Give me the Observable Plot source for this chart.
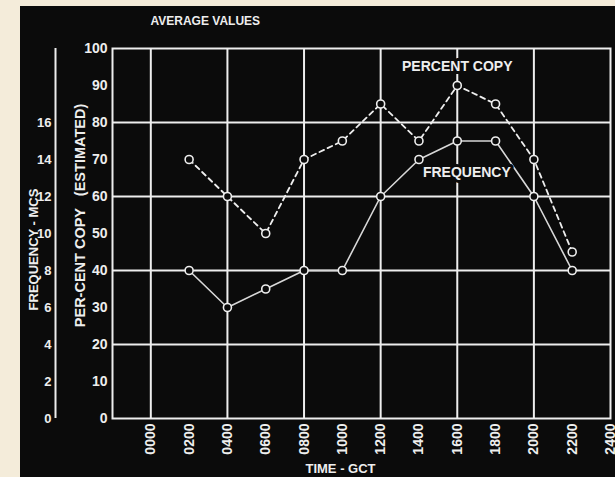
<!DOCTYPE html>
<html>
<head>
<meta charset="utf-8">
<script src="https://cdn.jsdelivr.net/npm/d3@7"></script>
<script src="https://cdn.jsdelivr.net/npm/@observablehq/plot@0.6"></script>
<style>
  html, body { margin: 0; padding: 0; background: #f4ecda; }
  #chart svg { display: block; margin-left: 20px; margin-top: 6px; }
</style>
</head>
<body>
<div id="chart"></div>
<script>
// ---- data ----
const hours = [2, 4, 6, 8, 10, 12, 14, 16, 18, 20, 22];
const percentCopy = [70, 60, 50, 70, 75, 85, 75, 90, 85, 70, 45];
const frequencyMcs = [8, 6, 7, 8, 8, 12, 14, 15, 15, 12, 8];
const mcsToPercent = 5; // 16 Mc/s sits at 80 per cent on the shared scale
const xTicks = [0, 2, 4, 6, 8, 10, 12, 14, 16, 18, 20, 22, 24];
const xGrid = [0, 4, 8, 12, 16, 20];
const yTicks = [0, 10, 20, 30, 40, 50, 60, 70, 80, 90, 100];
const yGrid = [20, 40, 60, 80];
const freqTicks = [0, 2, 4, 6, 8, 10, 12, 14, 16];
const seriesLabels = ["PERCENT COPY", "FREQUENCY"];
const labelHours = [16, 16.5];
const labelValues = [95, 66.5];

const copyData = hours.map((h, i) => ({hour: h, value: percentCopy[i]}));
const freqData = hours.map((h, i) => ({hour: h, value: frequencyMcs[i] * mcsToPercent}));
const labels = seriesLabels.map((t, i) => ({text: t, hour: labelHours[i], value: labelValues[i]}));

const BG = "#0b0b0b";
const FG = "#eeeeee";
const font = "'Liberation Sans', Arial, sans-serif";

const chart = Plot.plot({
  width: 595,
  height: 471,
  marginLeft: 92,
  marginRight: 5,
  marginTop: 42,
  marginBottom: 59,
  style: {background: BG, color: FG, fontFamily: font},
  x: {domain: [-2, 24], label: null},
  y: {domain: [0, 100], label: null},
  marks: [
    Plot.gridY(yGrid, {stroke: FG, strokeOpacity: 1, strokeWidth: 2}),
    Plot.gridX(xGrid, {stroke: FG, strokeOpacity: 1, strokeWidth: 2}),
    Plot.frame({stroke: FG, strokeWidth: 2}),
    Plot.axisY(yTicks, {anchor: "left", tickSize: 0, tickPadding: 5, fontSize: 14, fontWeight: "bold", fill: FG, label: null}),
    Plot.axisY(freqTicks.map(f => f * mcsToPercent), {anchor: "left", tickSize: 0, tickPadding: 4, dx: -57, fontSize: 13, fontWeight: "bold", fill: FG, label: null, tickFormat: d => String(d / mcsToPercent)}),
    Plot.ruleX([-2], {y1: 0, y2: 100, dx: -57, stroke: FG, strokeWidth: 2}),
    Plot.axisX(xTicks, {anchor: "bottom", tickSize: 0, tickPadding: 5, tickRotate: -90, fontSize: 14, fontWeight: "bold", fill: FG, label: null, tickFormat: d => String(d * 100).padStart(4, "0")}),
    Plot.text(["PER-CENT COPY   (ESTIMATED)"], {frameAnchor: "left", textAnchor: "middle", rotate: -90, dx: -32, dy: -18, fontSize: 14.5, fontWeight: "bold", fill: FG}),
    Plot.text(["FREQUENCY - MCS"], {frameAnchor: "left", textAnchor: "middle", rotate: -90, dx: -79, dy: 16, fontSize: 13, fontWeight: "bold", fill: FG}),
    Plot.text(["AVERAGE VALUES"], {frameAnchor: "top-left", textAnchor: "start", dx: 38, dy: -32, fontSize: 12, fontWeight: "bold", fill: FG}),
    Plot.text(["TIME - GCT"], {frameAnchor: "bottom", dx: -21, dy: 54, fontSize: 13, fontWeight: "bold", fill: FG}),
    Plot.line(copyData, {x: "hour", y: "value", stroke: FG, strokeWidth: 1.8, strokeDasharray: "5,4"}),
    Plot.line(freqData, {x: "hour", y: "value", stroke: "#d8d8d8", strokeWidth: 1.6}),
    Plot.dot(copyData, {x: "hour", y: "value", r: 4, fill: BG, stroke: FG, strokeWidth: 1.6}),
    Plot.dot(freqData, {x: "hour", y: "value", r: 4, fill: BG, stroke: FG, strokeWidth: 1.6}),
    Plot.text(labels, {x: "hour", y: "value", text: "text", fontSize: 14, fontWeight: "bold", fill: FG, stroke: BG, strokeWidth: 6, paintOrder: "stroke"})
  ]
});
document.getElementById("chart").appendChild(chart);
</script>
</body>
</html>
